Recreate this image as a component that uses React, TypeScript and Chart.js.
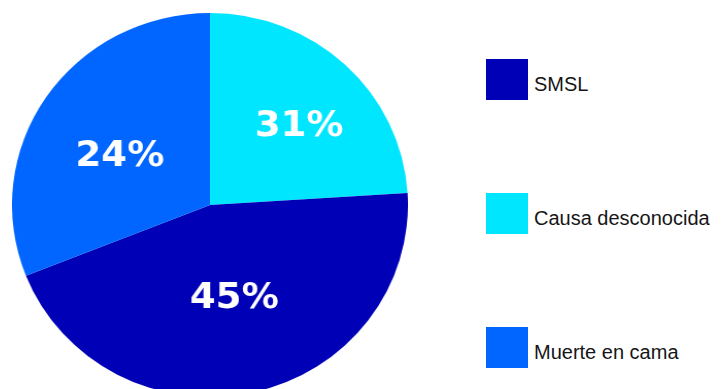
import React, { useEffect, useRef } from "react";
import { Chart, registerables } from "chart.js";

Chart.register(...registerables);

// Legend order
const categories = ["SMSL", "Causa desconocida", "Muerte en cama"];
// Slice sizes as drawn (share of the circle)
const values = [45, 24, 31];
// Percent text printed on each slice
const percentLabels = ["45%", "31%", "24%"];
const colors = ["#0000b7", "#00e6ff", "#0066ff"];
// Clockwise drawing order starting at 12 o'clock (indices into categories)
const drawOrder = [1, 0, 2];

// label placement per category (same order as categories):
// fraction of radius, and fraction along the slice's arc
const labelRadiusFrac = [0.485, 0.62, 0.53];
const labelAngleFrac = [0.487, 0.54, 0.47];

const sliceLabelPlugin = {
  id: "sliceLabels",
  afterDatasetsDraw(chart: any) {
    const ctx = chart.ctx;
    const meta = chart.getDatasetMeta(0);
    ctx.save();
    ctx.fillStyle = "#ffffff";
    ctx.font = "bold 36px 'DejaVu Sans'";
    ctx.textAlign = "center";
    ctx.textBaseline = "alphabetic";
    meta.data.forEach((arc: any, i: number) => {
      const cat = drawOrder[i];
      const { x, y, startAngle, endAngle, outerRadius } = arc.getProps(
        ["x", "y", "startAngle", "endAngle", "outerRadius"],
        true
      );
      const a = startAngle + (endAngle - startAngle) * labelAngleFrac[cat];
      const r = outerRadius * labelRadiusFrac[cat];
      const px = x + Math.cos(a) * r;
      const py = y + Math.sin(a) * r;
      ctx.fillText(percentLabels[cat], px, py + 13);
    });
    ctx.restore();
  },
};

function PieChart() {
  const ref = useRef<HTMLCanvasElement | null>(null);
  useEffect(() => {
    if (!ref.current) return;
    const chart = new Chart(ref.current, {
      type: "pie",
      data: {
        labels: drawOrder.map((i) => categories[i]),
        datasets: [
          {
            data: drawOrder.map((i) => values[i]),
            backgroundColor: drawOrder.map((i) => colors[i]),
            borderWidth: 0,
            hoverOffset: 0,
            offset: 0,
          },
        ],
      },
      options: {
        responsive: false,
        maintainAspectRatio: false,
        animation: false,
        layout: { padding: 0 },
        plugins: {
          legend: { display: false },
          tooltip: { enabled: false },
        },
      },
      plugins: [sliceLabelPlugin],
    });
    return () => chart.destroy();
  }, []);
  return <canvas ref={ref} width={384} height={384} />;
}

export default function App() {
  return (
    <div
      style={{
        position: "fixed",
        left: 0,
        top: 0,
        width: 721,
        height: 389,
        overflow: "hidden",
        background: "#ffffff",
      }}
    >
      <div
        style={{
          position: "absolute",
          left: 12,
          top: 13,
          width: 384,
          height: 384,
          transform: "scaleX(1.031)",
          transformOrigin: "0 0",
        }}
      >
        <PieChart />
      </div>
      {categories.map((c, i) => (
        <div key={c}>
          <div
            style={{
              position: "absolute",
              left: 486,
              top: 59 + i * 134,
              width: 42,
              height: 41,
              background: colors[i],
            }}
          />
          <div
            style={{
              position: "absolute",
              left: 534,
              top: 59 + i * 134 + 14.6,
              fontFamily: "'Liberation Sans', Arial, sans-serif",
              fontSize: 20,
              lineHeight: "20px",
              color: "#161616",
              whiteSpace: "nowrap",
            }}
          >
            {c}
          </div>
        </div>
      ))}
    </div>
  );
}
